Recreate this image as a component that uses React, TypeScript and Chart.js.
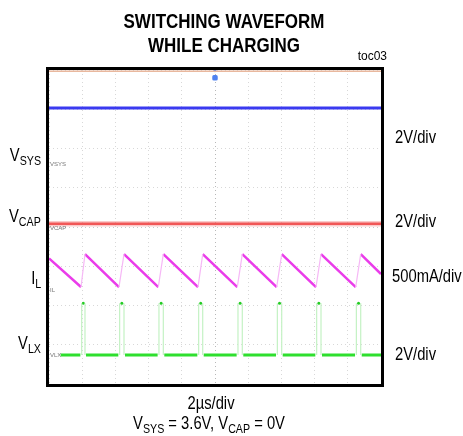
import React, { useEffect, useRef } from "react";
import { Chart, registerables } from "chart.js";

Chart.register(...registerables);

// ---- data (in scope divisions: x 0..10, y 0..8 from bottom) ----
const X_DIVS = 10;
const Y_DIVS = 8;

const ilTroughX = [0.964, 2.108, 3.292, 4.488, 5.672, 6.858, 8.042, 9.238];
const ilPeakX = [1.084, 2.259, 3.443, 4.63, 5.822, 7.009, 8.193, 9.389];
const ilTroughY = [2.47, 2.47, 2.47, 2.47, 2.47, 2.47, 2.47, 2.47];
const ilPeakY = [3.31, 3.31, 3.31, 3.31, 3.31, 3.31, 3.31, 3.31];
const ilStartY = 3.2;
const ilEndY = 2.8;

const vlxLow = 0.74;
const vlxHigh = 2.06;
const vlxStartX = 0.35;

const vsysLevel = 7.03;
const vcapLevel = 4.08;
const topTraceLevel = 7.97;
const triggerX = 5;

const markerLabels = [
  { text: "VSYS", y: 5.6 },
  { text: "VCAP", y: 3.97 },
  { text: "IL", y: 2.39 },
  { text: "VLX", y: 0.74 },
];

type P = { x: number; y: number | null };

function ilFalling(): P[] {
  const pts: P[] = [{ x: 0, y: ilStartY }];
  for (let i = 0; i < ilTroughX.length; i++) {
    pts.push({ x: ilTroughX[i], y: ilTroughY[i] });
    pts.push({ x: (ilTroughX[i] + ilPeakX[i]) / 2, y: null });
    pts.push({ x: ilPeakX[i], y: ilPeakY[i] });
  }
  pts.push({ x: X_DIVS, y: ilEndY });
  return pts;
}

function ilRising(): P[] {
  const pts: P[] = [];
  for (let i = 0; i < ilTroughX.length; i++) {
    pts.push({ x: ilTroughX[i], y: ilTroughY[i] });
    pts.push({ x: ilPeakX[i], y: ilPeakY[i] });
    pts.push({ x: ilPeakX[i] + 0.01, y: null });
  }
  return pts;
}

function vlxBase(): P[] {
  const pts: P[] = [{ x: vlxStartX, y: vlxLow }];
  for (let i = 0; i < ilTroughX.length; i++) {
    pts.push({ x: ilTroughX[i] - 0.02, y: vlxLow });
    pts.push({ x: ilTroughX[i], y: null });
    pts.push({ x: ilPeakX[i] + 0.03, y: vlxLow });
  }
  pts.push({ x: X_DIVS, y: vlxLow });
  return pts;
}

function vlxPulses(): P[] {
  const pts: P[] = [];
  for (let i = 0; i < ilTroughX.length; i++) {
    pts.push({ x: ilTroughX[i] + 0.02, y: vlxLow });
    pts.push({ x: ilTroughX[i] + 0.02, y: vlxHigh });
    pts.push({ x: ilTroughX[i] + 0.03, y: null });
    pts.push({ x: ilPeakX[i], y: vlxHigh });
    pts.push({ x: ilPeakX[i], y: vlxLow });
    pts.push({ x: ilPeakX[i] + 0.01, y: null });
  }
  return pts;
}

function vlxTops(): P[] {
  return ilTroughX.map((t, i) => ({ x: (t + ilPeakX[i]) / 2 + 0.01, y: vlxHigh }));
}

const FONT = "'Liberation Sans', Arial, sans-serif";
const SQUEEZE = 0.82;
const LABEL = 18;
const SUB = 13;

const framePlugin = {
  id: "scopeFrame",
  afterDatasetsDraw(chart: any) {
    const { ctx, chartArea, scales } = chart;
    const { left, top, right, bottom } = chartArea;
    ctx.save();
    // tiny channel markers
    ctx.font = "6px " + FONT;
    ctx.fillStyle = "#777";
    ctx.textBaseline = "middle";
    for (const m of markerLabels) {
      ctx.fillText(m.text, left + 1, scales.y.getPixelForValue(m.y));
    }
    // frame
    ctx.strokeStyle = "#000";
    ctx.lineWidth = 3;
    ctx.strokeRect(left - 1.5, top - 1.5, right - left + 3, bottom - top + 3);
    ctx.restore();
  },
};

function ScopeChart() {
  const ref = useRef<HTMLCanvasElement | null>(null);
  useEffect(() => {
    if (!ref.current) return;
    const line = (data: P[], color: string, width: number) => ({
      type: "line" as const,
      data,
      borderColor: color,
      backgroundColor: color,
      borderWidth: width,
      pointRadius: 0,
      spanGaps: false,
      tension: 0,
    });
    const chart = new Chart(ref.current, {
      type: "line",
      data: {
        datasets: [
          line([{ x: 0, y: topTraceLevel }, { x: X_DIVS, y: topTraceLevel }], "#e9b89e", 1.5),
          line([{ x: 0, y: vsysLevel }, { x: X_DIVS, y: vsysLevel }], "#3a3af0", 3),
          line([{ x: 0, y: vcapLevel }, { x: X_DIVS, y: vcapLevel }], "rgba(245,140,140,0.45)", 5.5),
          line([{ x: 0, y: vcapLevel }, { x: X_DIVS, y: vcapLevel }], "#ee2c2c", 2.5),
          line(ilRising(), "#f6b8f6", 1.2),
          line(ilFalling(), "#ea3cea", 2.5),
          line(vlxPulses(), "#c4f2c4", 1.2),
          line(vlxBase(), "#2edf2e", 3),
          {
            type: "line" as const,
            data: vlxTops(),
            showLine: false,
            pointRadius: 1.5,
            pointBorderWidth: 0,
            pointBackgroundColor: "#22cc22",
          },
          {
            type: "line" as const,
            data: [{ x: triggerX, y: 7.98 }],
            showLine: false,
            pointRadius: 1.4,
            pointBorderWidth: 0,
            pointBackgroundColor: "#3a6ef0",
          },
          {
            type: "line" as const,
            data: [{ x: triggerX, y: 7.8 }],
            showLine: false,
            pointStyle: "rectRounded",
            pointRadius: 3.2,
            pointBorderWidth: 0,
            pointBackgroundColor: "#4f82f0",
          },
        ] as any,
      },
      options: {
        animation: false,
        responsive: false,
        events: [],
        layout: { padding: { left: 49, top: 70, right: 82, bottom: 52 } },
        plugins: { legend: { display: false }, tooltip: { enabled: false }, title: { display: false } },
        scales: {
          x: {
            type: "linear",
            min: 0,
            max: X_DIVS,
            ticks: { display: false, stepSize: 1 },
            grid: {
              drawTicks: false,
              color: (c: any) => (c.tick && c.tick.value === 5 ? "#b8b8b8" : "#d8d8d8"),
              lineWidth: 1,
            },
            border: { display: false, dash: [1, 3] },
          },
          y: {
            type: "linear",
            min: 0,
            max: Y_DIVS,
            ticks: { display: false, stepSize: 1 },
            grid: {
              drawTicks: false,
              color: (c: any) => (c.tick && c.tick.value === 4 ? "#c8c8c8" : "#d8d8d8"),
              lineWidth: 1,
            },
            border: { display: false, dash: [1, 3] },
          },
        },
      } as any,
      plugins: [framePlugin],
    });
    return () => chart.destroy();
  }, []);
  return (
    <canvas
      ref={ref}
      width={463}
      height={436}
      style={{ position: "absolute", left: 0, top: 0, width: 463, height: 436 }}
    />
  );
}

type Anchor = "left" | "right" | "center";

const txt = (anchor: Anchor, x: number, cy: number, size: number, extra: React.CSSProperties = {}): React.CSSProperties => {
  const base: React.CSSProperties = {
    position: "absolute",
    whiteSpace: "nowrap",
    lineHeight: 1,
    color: "#000",
    fontFamily: FONT,
    fontSize: size,
    top: cy - size / 2,
  };
  if (anchor === "left") {
    return { ...base, left: x, transform: `scaleX(${SQUEEZE})`, transformOrigin: "left center", ...extra };
  }
  if (anchor === "right") {
    return { ...base, right: 463 - x, transform: `scaleX(${SQUEEZE})`, transformOrigin: "right center", ...extra };
  }
  return {
    ...base,
    left: x,
    transform: `translateX(-50%) scaleX(${SQUEEZE})`,
    transformOrigin: "center center",
    textAlign: "center",
    ...extra,
  };
};

function Sub({ children }: { children: React.ReactNode }) {
  return <span style={{ fontSize: SUB, position: "relative", top: 4 }}>{children}</span>;
}

export default function App() {
  return (
    <div style={{ position: "absolute", left: 0, top: 0, width: 463, height: 436, background: "#fff", overflow: "hidden" }}>
      <ScopeChart />
      <div
        style={txt("center", 224, 20.7, 21, {
          top: 8.7,
          fontWeight: "bold",
          lineHeight: "24px",
          transform: "translateX(-50%) scaleX(0.81)",
        })}
      >
        SWITCHING WAVEFORM
        <br />
        WHILE CHARGING
      </div>
      <div style={txt("right", 387, 56, 12, { transform: "none" })}>toc03</div>

      <div style={txt("right", 41, 155, LABEL)}>
        V<Sub>SYS</Sub>
      </div>
      <div style={txt("right", 41, 216, LABEL)}>
        V<Sub>CAP</Sub>
      </div>
      <div style={txt("right", 41, 278, LABEL)}>
        I<Sub>L</Sub>
      </div>
      <div style={txt("right", 41, 343, LABEL)}>
        V<Sub>LX</Sub>
      </div>

      <div style={txt("left", 395, 137, LABEL)}>2V/div</div>
      <div style={txt("left", 395, 221, LABEL)}>2V/div</div>
      <div style={txt("left", 392, 276, LABEL)}>500mA/div</div>
      <div style={txt("left", 395, 354, LABEL)}>2V/div</div>

      <div style={txt("center", 211, 403, LABEL)}>2µs/div</div>
      <div style={txt("center", 209, 423, LABEL)}>
        V<Sub>SYS</Sub> = 3.6V, V<Sub>CAP</Sub> = 0V
      </div>
    </div>
  );
}
